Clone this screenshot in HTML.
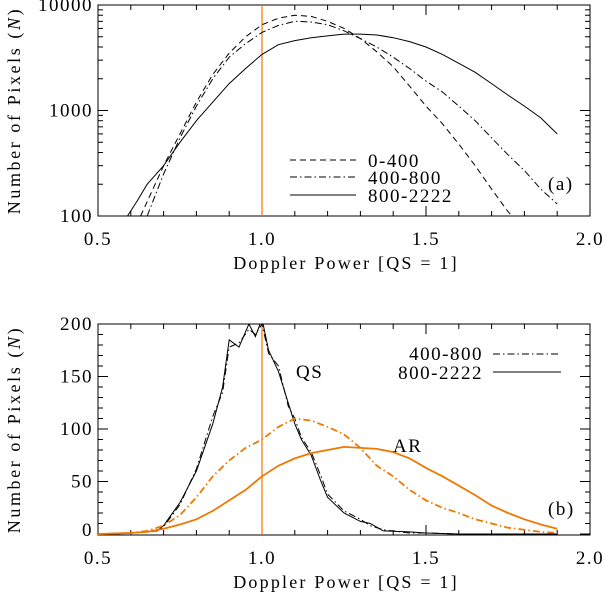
<!DOCTYPE html>
<html><head><meta charset="utf-8"><style>
html,body{margin:0;padding:0;background:#fff;}
svg{display:block;font-family:"Liberation Serif","DejaVu Serif",serif;}
</style></head><body>
<svg id="fig" width="604" height="592" viewBox="0 0 604 592" xmlns="http://www.w3.org/2000/svg"></svg>
<script>
// ---- data ----
const xTickLabels = ["0.5","1.0","1.5","2.0"];
const xTickVals = [0.5,1.0,1.5,2.0];
const topYTicks = [100,1000,10000];
const topYLabels = ["100","1000","10000"];
const botYTicks = [0,50,100,150,200];
const botYLabels = ["0","50","100","150","200"];

const aSolidX = [0.59,0.62,0.65,0.7,0.75,0.8,0.85,0.9,0.95,1.0,1.05,1.1,1.15,1.2,1.25,1.3,1.35,1.4,1.45,1.5,1.55,1.6,1.65,1.7,1.75,1.8,1.85,1.9];
const aSolidY = [100,140,200,300,500,800,1200,1800,2500,3400,4200,4600,4900,5100,5300,5300,5200,4900,4500,4000,3400,2800,2300,1800,1400,1100,850,600];
const aDashX = [0.63,0.7,0.75,0.8,0.85,0.9,0.95,1.0,1.05,1.1,1.15,1.2,1.25,1.3,1.35,1.4,1.45,1.5,1.55,1.6,1.65,1.7,1.75,1.77];
const aDashY = [100,300,600,1200,2200,3500,5000,6500,7500,8000,7800,7000,6000,4800,3600,2600,1700,1100,750,480,300,180,110,95];
const aDotX = [0.65,0.7,0.75,0.8,0.85,0.9,0.95,1.0,1.05,1.1,1.15,1.2,1.25,1.3,1.35,1.4,1.45,1.5,1.55,1.6,1.65,1.7,1.75,1.8,1.85,1.9];
const aDotY = [100,250,550,1100,2000,3200,4300,5500,6400,7000,6900,6500,5700,4800,4000,3200,2500,1900,1500,1100,800,550,380,270,180,130];

const bX = [0.5,0.55,0.6,0.65,0.68,0.7,0.75,0.8,0.85,0.88,0.9,0.93,0.96,0.98,1.0,1.02,1.05,1.08,1.1,1.12,1.15,1.18,1.2,1.25,1.3,1.33,1.37,1.45,1.5,1.6,1.9];
const qsSolid = [0,0,1,2,3,8,30,60,105,140,185,178,200,188,205,175,155,125,105,90,75,50,35,20,12,10,3,2,1,0,0];
const qsDot = [0,0,1,2,3,7,28,62,112,135,178,182,195,190,200,172,160,122,110,92,78,55,38,22,14,8,4,1,1,0,0];
const arX = [0.5,0.6,0.65,0.7,0.75,0.8,0.85,0.9,0.95,1.0,1.05,1.1,1.15,1.2,1.25,1.3,1.35,1.4,1.45,1.5,1.55,1.6,1.65,1.7,1.75,1.8,1.85,1.9];
const arDot = [0,1,3,8,18,35,55,70,82,90,102,110,108,102,95,82,65,55,42,32,25,20,14,10,6,4,2,1];
const arSolid = [0,1,2,5,9,14,22,32,42,55,65,72,77,80,83,82,81,78,72,63,55,46,37,27,20,14,9,5];

// ---- helpers ----
const NS="http://www.w3.org/2000/svg";
const svg=document.getElementById('fig');
function mk(tag,attrs,parent){const e=document.createElementNS(NS,tag);for(const k in attrs)e.setAttribute(k,attrs[k]);(parent||svg).appendChild(e);return e;}
const L=98,R=590;
const xs=v=>L+(v-0.5)*(R-L)/1.5;
const T1=5,B1=216;
const ya=v=>B1-(Math.log10(v)-2)/2*(B1-T1);
const T2=324,B2=535;
const yb=v=>534-v*(534-T2)/200;
const ORANGE="#f07800";

function frame(top,bot,name){
  const r=mk('rect',{x:L,y:top,width:R-L,height:bot-top,fill:'none',stroke:'#000','stroke-width':1});
  
  
  for(let v=0.5;v<=2.0001;v+=0.1){
    const major=Math.abs((v*2)-Math.round(v*2))<1e-6;
    const len=major?10:5;const x=xs(v);
    mk('line',{x1:x,y1:bot,x2:x,y2:bot-len,stroke:'#000'});
    mk('line',{x1:x,y1:top,x2:x,y2:top+len,stroke:'#000'});
  }
  xTickVals.forEach((v,i)=>{
    const t=mk('text',{x:xs(v),y:bot+29,'font-size':19,'text-anchor':'middle','letter-spacing':'1.5'});
    t.textContent=xTickLabels[i];
    
    
  });
  const xt=mk('text',{x:(L+R)/2+2,y:bot+53,'font-size':18,'text-anchor':'middle','letter-spacing':'2.2'});
  xt.textContent="Doppler Power [QS = 1]";
  
  
  const yt=mk('text',{transform:`translate(20,${(top+bot)/2}) rotate(-90)`,'font-size':18,'text-anchor':'middle','letter-spacing':'2.6'});
  yt.innerHTML='Number of Pixels (<tspan font-style="italic">N</tspan>)';
  
  
}
function line(xa,ya_,xf,yf,name,color,dash){
  const d=xa.map((x,i)=>(i?'L':'M')+xf(x).toFixed(1)+','+yf(ya_[i]).toFixed(1)).join('');
  const p=mk('path',{d:d,fill:'none',stroke:color,'stroke-width':color===ORANGE?1.8:1,'stroke-dasharray':dash||'none'});
  
  
}
function txt(x,y,s,name,anchor){
  const t=mk('text',{x:x,y:y,'font-size':19,'text-anchor':anchor||'start','letter-spacing':'1.5'});
  t.textContent=s;
  
  
}

// ---- panel a ----
const clipA=mk('clipPath',{id:'ca'});mk('rect',{x:L,y:T1,width:R-L,height:B1-T1},clipA);
const clipB=mk('clipPath',{id:'cb'});mk('rect',{x:L,y:T2,width:R-L,height:B2-T2},clipB);
frame(T1,B1,'panel-a-frame');
for(let d=2;d<4;d++)for(let m=2;m<=9;m++){const y=ya(m*Math.pow(10,d));mk('line',{x1:L,y1:y,x2:L+5,y2:y,stroke:'#000'});mk('line',{x1:R,y1:y,x2:R-5,y2:y,stroke:'#000'});}
topYTicks.forEach((v,i)=>{const y=ya(v);mk('line',{x1:L,y1:y,x2:L+10,y2:y,stroke:'#000'});mk('line',{x1:R,y1:y,x2:R-10,y2:y,stroke:'#000'});
  txt(L-5,y+6,topYLabels[i],'y-tick-label','end');});
const gA=mk('g',{'clip-path':'url(#ca)'});
mk('line',{x1:xs(1),y1:T1,x2:xs(1),y2:B1,stroke:ORANGE,'stroke-width':1.2},gA);
line(aDashX,aDashY,xs,ya,'series-0-400','#000','6,4');
line(aDotX,aDotY,xs,ya,'series-400-800','#000','7,3,1.5,3');
line(aSolidX,aSolidY,xs,ya,'series-800-2222','#000');
[...svg.querySelectorAll('path')].forEach(p=>gA.appendChild(p));
mk('line',{x1:290,y1:160,x2:356,y2:160,stroke:'#000','stroke-dasharray':'6,4'});
mk('line',{x1:290,y1:177,x2:356,y2:177,stroke:'#000','stroke-dasharray':'7,3,1.5,3'});
mk('line',{x1:290,y1:195,x2:356,y2:195,stroke:'#000'});
txt(368,167,'0-400','legend-entry-0-400');
txt(368,184,'400-800','legend-entry-400-800');
txt(368,202,'800-2222','legend-entry-800-2222');
txt(548,190,'(a)','panel-a-label');

// ---- panel b ----
frame(T2,B2,'panel-b-frame');
for(let v=0;v<=200;v+=10){const y=yb(v);const len=v%50===0?10:5;mk('line',{x1:L,y1:y,x2:L+len,y2:y,stroke:'#000'});mk('line',{x1:R,y1:y,x2:R-len,y2:y,stroke:'#000'});}
botYTicks.forEach((v,i)=>txt(L-5,Math.min(yb(v)+6,536),botYLabels[i],'y-tick-label','end'));
const gB=mk('g',{'clip-path':'url(#cb)'});
mk('line',{x1:xs(1),y1:T2,x2:xs(1),y2:B2,stroke:ORANGE,'stroke-width':1.2},gB);
const before=new Set(svg.querySelectorAll('path'));
line(bX,qsDot,xs,yb,'qs-400-800','#000','7,3,1.5,3');
line(bX,qsSolid,xs,yb,'qs-800-2222','#000');
line(arX,arDot,xs,yb,'ar-400-800',ORANGE,'7,3,1.5,3');
line(arX,arSolid,xs,yb,'ar-800-2222',ORANGE);
[...svg.querySelectorAll('path')].filter(p=>!before.has(p)).forEach(p=>gB.appendChild(p));
txt(483,360,'400-800','legend-entry-400-800','end');
txt(483,379,'800-2222','legend-entry-800-2222','end');
mk('line',{x1:493,y1:354,x2:561,y2:354,stroke:'#000','stroke-dasharray':'7,3,1.5,3'});
mk('line',{x1:493,y1:372,x2:561,y2:372,stroke:'#000'});
txt(296,378,'QS','qs-label');
txt(393,452,'AR','ar-label');
txt(548,515,'(b)','panel-b-label');
</script>
</body></html>
